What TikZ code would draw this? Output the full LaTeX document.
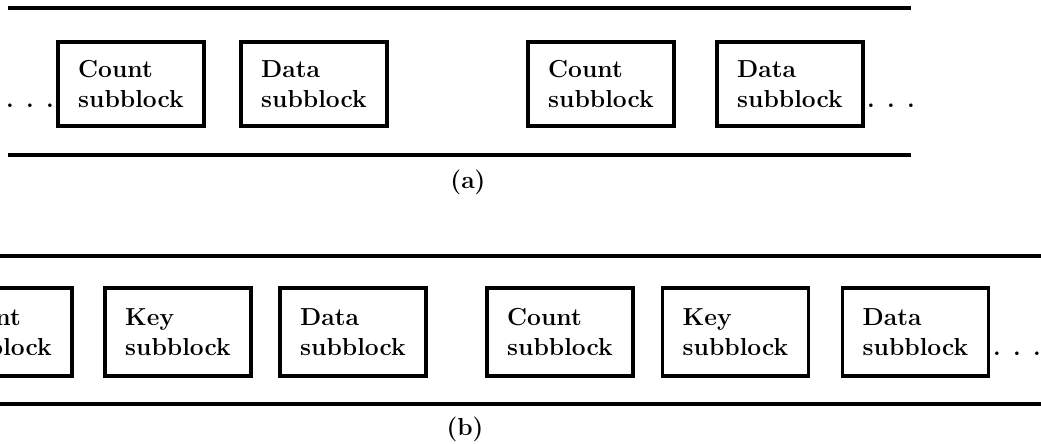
\documentclass[tikz,border=0pt]{standalone}
\usepackage{tikz}
\usetikzlibrary{positioning}

\begin{document}
\begin{tikzpicture}[x=0.5pt,y=-0.5pt,
        sub/.style={draw,line width=1.6pt,minimum width=73pt,minimum height=42pt,inner sep=0pt,align=left,font=\fontsize{12.3}{15}\selectfont\bfseries},
        subb/.style={sub,minimum height=44pt},
        txt/.style={inner sep=0pt,font=\fontsize{12.3}{15}\selectfont\bfseries},
        rule/.style={line width=1.6pt}]
    \useasboundingbox (0,0) rectangle (1041,444);
    \clip (0,0) rectangle (1041,444);

    % (a)
    \draw[rule] (8,8)--(911,8);
    \draw[rule] (8,155)--(911,155);
    \node[sub] (countA1) at (131,84) {Count\\subblock};
    \node[sub] (dataA1) at (314,84) {Data\\subblock};
    \node[sub] (countA2) at (601,84) {Count\\subblock};
    \node[sub] (dataA2) at (790,84) {Data\\subblock};
    \node[txt,anchor=base] (dotsAL) at (30,108) {. . .};
    \node[txt,anchor=base] (dotsAR) at (891,108) {. . .};
    \node[txt] (labelA) at (468,182) {(a)};

    % (b)
    \draw[rule] (0,256)--(1041,256);
    \draw[rule] (0,404)--(1041,404);
    \node[subb] (countB1) at (-1,332) {Count\\subblock};
    \node[subb] (keyB1) at (178,332) {Key\\subblock};
    \node[subb] (dataB1) at (353,332) {Data\\subblock};
    \node[subb] (countB2) at (560,332) {Count\\subblock};
    \node[subb] (keyB2) at (735.5,332) {Key\\subblock};
    \node[subb] (dataB2) at (915.5,332) {Data\\subblock};
    \node[txt,anchor=base] (dotsBR) at (1017,356) {. . .};
    \node[txt] (labelB) at (465,429) {(b)};
\end{tikzpicture}
\end{document}
